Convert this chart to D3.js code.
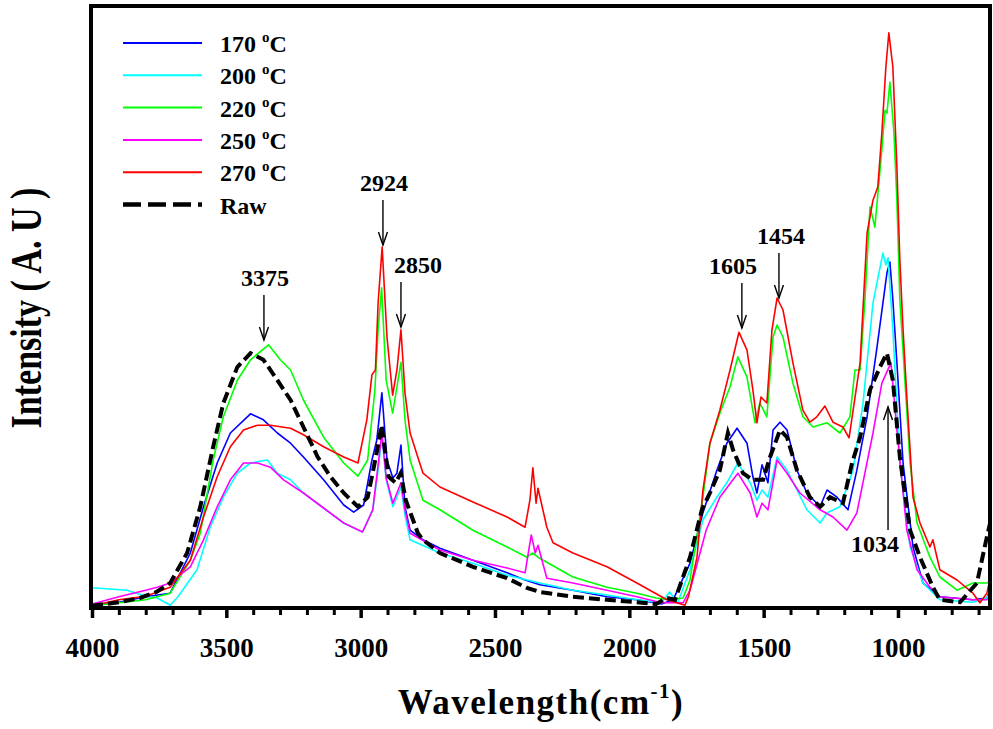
<!DOCTYPE html>
<html>
<head>
<meta charset="utf-8">
<script src="https://cdn.jsdelivr.net/npm/d3@7"></script>
<style>
  body { margin: 0; background: #fff; }
  text { font-family: "Liberation Serif", "Times New Roman", serif; font-weight: bold; fill: #000; }
</style>
</head>
<body>
<div id="chart"></div>
<script>
const width = 993, height = 729;
const margin = { top: 6, right: 3, bottom: 122, left: 92 };

// spectra: [wavenumber (cm-1), intensity (a.u.)]
const s170 = [[4000,0.2],[3900,0.8],[3800,1.7],[3709,2.3],[3634,9.0],[3585,16.7],[3534,24.0],[3485,29.0],[3410,32.2],[3362,31.2],[3310,29.0],[3261,27.3],[3213,25.0],[3138,21.2],[3063,17.0],[3026,15.8],[2989,17.0],[2958,24.5],[2940,27.8],[2921,35.7],[2902,24.5],[2880,21.5],[2865,22.3],[2850,27.0],[2835,16.7],[2816,12.8],[2768,11.2],[2705,9.8],[2582,7.8],[2455,5.7],[2388,4.5],[2333,3.7],[2210,2.8],[2083,1.7],[1972,1.2],[1880,0.5],[1837,1.2],[1774,7.3],[1726,15.7],[1674,22.8],[1637,27.3],[1599,29.8],[1562,27.3],[1540,21.7],[1525,19.0],[1506,23.7],[1484,20.7],[1465,29.5],[1439,30.8],[1413,29.5],[1376,22.8],[1339,19.0],[1290,16.7],[1264,19.5],[1227,18.3],[1186,16.2],[1153,22.8],[1115,31.7],[1078,43.3],[1041,55.7],[1030,57.5],[1019,51.2],[1004,40.7],[981,24.0],[944,10.0],[907,4.0],[844,1.7],[721,1.2],[669,1.5],[650,3.7]];

const s200 = [[4000,3.2],[3870,2.8],[3800,1.8],[3757,1.5],[3709,0.3],[3680,1.7],[3609,6.2],[3560,13.3],[3511,18.3],[3459,22.3],[3410,24.0],[3347,24.5],[3310,22.3],[3261,21.2],[3213,19.0],[3138,16.5],[3063,14.0],[2993,12.5],[2955,16.2],[2935,22.8],[2921,28.7],[2905,21.2],[2880,16.7],[2850,20.0],[2835,15.3],[2816,11.2],[2705,9.0],[2582,7.3],[2455,5.3],[2333,4.0],[2210,2.8],[2083,2.0],[1972,1.2],[1880,0.7],[1850,2.5],[1820,0.7],[1774,6.2],[1726,14.5],[1674,18.3],[1637,20.7],[1596,24.0],[1550,20.7],[1525,17.8],[1506,19.5],[1484,18.3],[1450,25.0],[1413,22.8],[1376,19.5],[1339,16.2],[1290,14.0],[1264,15.7],[1216,16.7],[1167,22.8],[1130,34.0],[1093,50.7],[1056,59.0],[1045,57.0],[1037,58.2],[1019,46.2],[993,24.0],[955,10.0],[907,4.0],[844,1.2],[721,0.8],[669,1.5],[650,2.8]];

const s220 = [[4000,0.2],[3900,0.7],[3800,1.2],[3709,2.3],[3634,7.8],[3597,12.3],[3549,24.5],[3511,31.7],[3459,37.8],[3410,41.2],[3343,43.7],[3299,41.2],[3261,39.5],[3213,34.5],[3138,28.3],[3063,24.0],[3010,21.8],[2974,24.5],[2947,36.2],[2935,46.2],[2922,53.2],[2905,37.8],[2881,32.3],[2865,36.7],[2850,40.8],[2835,31.2],[2816,24.5],[2768,17.8],[2705,16.2],[2582,12.8],[2455,10.0],[2381,8.3],[2360,9.0],[2340,8.3],[2210,5.0],[2083,3.3],[1972,2.3],[1900,1.5],[1850,1.2],[1800,1.5],[1774,4.5],[1726,18.3],[1700,27.3],[1663,32.3],[1625,36.7],[1596,41.7],[1562,38.3],[1532,30.7],[1514,34.0],[1488,31.7],[1465,45.0],[1450,47.0],[1428,45.0],[1391,37.3],[1354,31.7],[1316,30.0],[1264,30.7],[1216,29.0],[1179,31.7],[1160,39.5],[1141,39.5],[1123,51.2],[1104,66.7],[1086,63.3],[1060,76.2],[1048,82.8],[1041,82.3],[1030,87.5],[1015,79.0],[1004,67.8],[993,51.2],[955,24.0],[929,14.0],[881,8.3],[844,5.0],[780,2.8],[721,4.0],[669,4.0],[650,4.5]];

const s250 = [[4000,0.5],[3900,1.7],[3800,2.8],[3757,3.3],[3709,4.0],[3634,6.7],[3585,11.2],[3534,16.7],[3485,21.2],[3436,24.0],[3384,24.0],[3336,23.3],[3287,21.2],[3213,19.0],[3138,16.5],[3063,14.0],[2993,12.5],[2955,16.2],[2935,23.7],[2921,29.0],[2905,21.5],[2880,17.3],[2850,20.7],[2835,16.2],[2816,12.3],[2705,9.5],[2582,7.8],[2455,6.5],[2388,5.7],[2365,12.0],[2350,9.0],[2340,10.3],[2307,4.8],[2210,4.0],[2083,2.8],[1972,1.7],[1880,0.7],[1800,0.7],[1774,2.8],[1714,12.8],[1663,18.3],[1596,22.3],[1550,19.0],[1525,15.0],[1506,17.3],[1484,16.2],[1450,24.5],[1413,22.3],[1365,19.0],[1290,16.2],[1242,15.0],[1190,12.8],[1153,15.7],[1093,29.0],[1060,37.3],[1026,40.7],[1004,29.5],[967,12.8],[929,6.2],[881,3.3],[844,1.7],[721,1.2],[669,1.2],[650,2.0]];

const s270 = [[4000,0.2],[3900,1.2],[3800,1.8],[3709,3.3],[3634,7.8],[3585,15.0],[3534,21.7],[3485,26.7],[3436,29.5],[3384,30.3],[3336,30.3],[3261,29.8],[3213,28.7],[3138,26.7],[3063,25.0],[3010,24.0],[2977,31.2],[2958,38.7],[2945,39.5],[2935,50.7],[2920,60.0],[2902,45.0],[2881,35.3],[2865,39.5],[2850,46.2],[2835,35.7],[2816,29.0],[2768,22.3],[2705,20.0],[2582,17.5],[2455,15.0],[2388,13.3],[2370,17.8],[2359,23.2],[2347,17.3],[2340,19.8],[2307,13.3],[2284,10.7],[2210,9.0],[2083,6.7],[1972,4.0],[1860,1.2],[1793,0.3],[1780,1.7],[1748,8.3],[1726,19.5],[1700,27.3],[1663,32.8],[1625,39.5],[1592,45.8],[1562,42.8],[1540,36.2],[1525,30.7],[1510,35.0],[1488,34.0],[1469,46.2],[1450,51.5],[1428,49.5],[1391,40.7],[1354,32.8],[1328,30.8],[1302,31.7],[1272,33.5],[1242,30.8],[1205,30.0],[1182,28.2],[1141,40.7],[1115,62.3],[1093,67.8],[1075,70.0],[1060,79.0],[1045,90.0],[1034,95.7],[1019,90.0],[1004,73.3],[993,57.8],[981,46.2],[967,35.0],[944,18.3],[918,14.0],[881,10.0],[870,11.2],[844,6.2],[780,4.5],[721,2.3],[695,0.7],[669,2.3],[650,6.2]];

const sRaw = [[4000,0.2],[3900,0.8],[3821,1.5],[3760,2.5],[3709,4.0],[3646,9.0],[3597,16.7],[3549,26.7],[3511,34.0],[3459,40.0],[3410,42.3],[3362,41.2],[3310,37.8],[3261,34.5],[3213,30.0],[3160,25.0],[3112,21.7],[3063,19.0],[3010,16.7],[2974,18.3],[2951,23.3],[2935,27.0],[2922,30.3],[2896,21.7],[2870,20.7],[2851,22.3],[2832,17.8],[2787,12.3],[2768,11.2],[2705,9.0],[2582,6.7],[2455,4.8],[2381,3.2],[2333,2.5],[2210,1.7],[2083,1.2],[1972,0.8],[1900,0.5],[1860,1.5],[1830,1.2],[1774,8.3],[1730,16.2],[1700,19.0],[1663,22.8],[1633,29.0],[1614,26.2],[1577,22.3],[1540,21.2],[1502,21.2],[1476,25.0],[1439,29.5],[1413,28.3],[1376,22.8],[1328,18.3],[1290,16.7],[1253,18.3],[1205,17.3],[1171,24.0],[1141,28.3],[1104,36.2],[1067,40.0],[1041,42.3],[1019,37.8],[993,25.0],[955,12.8],[918,8.3],[870,3.3],[844,1.2],[769,0.8],[706,4.0],[669,11.7],[650,15.3]];

const temps = ["170", "200", "220", "250", "270"];
const colors = ["#0000ff", "#00ffff", "#00ff00", "#ff00ff", "#ff0000"];
const xMajor = [4000, 3500, 3000, 2500, 2000, 1500, 1000];
const peakLabels = ["3375", "2924", "2850", "1605", "1454", "1034"];
const peakAt = [3360, 2917, 2850, 1581, 1443, 1037];

const series = [s170, s200, s220, s250, s270];

const svg = d3.select("#chart").append("svg")
    .attr("width", width)
    .attr("height", height);

const x = d3.scaleLinear()
    .domain([4000, 650])
    .range([margin.left, width - margin.right + 2]);

const y = d3.scaleLinear()
    .domain([0, 100])
    .range([height - margin.bottom, margin.top + 1]);

const plotW = 990 - margin.left + 1;
const plotH = height - margin.bottom - margin.top;

svg.append("clipPath")
    .attr("id", "plot")
  .append("rect")
    .attr("x", margin.left)
    .attr("y", margin.top)
    .attr("width", plotW - 1)
    .attr("height", plotH);

const line = d3.line()
    .x(d => x(d[0]))
    .y(d => y(d[1]));

const lines = svg.append("g").attr("clip-path", "url(#plot)");

series.forEach((s, i) => {
  lines.append("path")
      .datum(s)
      .attr("fill", "none")
      .attr("stroke", colors[i])
      .attr("stroke-width", 1.6)
      .attr("stroke-linejoin", "round")
      .attr("d", line);
});

lines.append("path")
    .datum(sRaw)
    .attr("fill", "none")
    .attr("stroke", "#000")
    .attr("stroke-width", 4)
    .attr("stroke-dasharray", "11,5")
    .attr("d", line);

// frame
svg.append("rect")
    .attr("x", margin.left - 1)
    .attr("y", margin.top)
    .attr("width", plotW)
    .attr("height", plotH + 1)
    .attr("fill", "none")
    .attr("stroke", "#000")
    .attr("stroke-width", 4);

// x axis: minor then major ticks
const yBase = height - margin.bottom;
svg.append("g")
    .attr("transform", `translate(0,${yBase})`)
    .call(d3.axisBottom(x)
      .tickValues(d3.range(700, 4000, 100).filter(v => v % 500 !== 0))
      .tickSize(8)
      .tickFormat(""))
    .call(g => g.select(".domain").remove())
    .call(g => g.selectAll("line").attr("stroke-width", 3));

svg.append("g")
    .attr("transform", `translate(0,${yBase})`)
    .call(d3.axisBottom(x)
      .tickValues(xMajor)
      .tickSize(11)
      .tickPadding(20)
      .tickFormat(d3.format("d")))
    .call(g => g.select(".domain").remove())
    .call(g => g.selectAll("line").attr("stroke-width", 3.5))
    .call(g => g.selectAll("text")
      .attr("font-size", 27)
      .attr("font-family", "Liberation Serif, serif")
      .attr("font-weight", "bold")
      .attr("fill", "#000"));

// axis titles
const xt = svg.append("text")
    .attr("x", (margin.left + 990) / 2)
    .attr("y", 714)
    .attr("text-anchor", "middle")
    .attr("font-size", 35)
    .attr("letter-spacing", 1.5);
xt.append("tspan").text("Wavelength(cm");
xt.append("tspan").attr("font-size", 21).attr("dy", -16).text("-1");
xt.append("tspan").attr("dy", 16).text(")");

svg.append("text")
    .attr("transform", "translate(41,308) rotate(-90) scale(1,1.3)")
    .attr("text-anchor", "middle")
    .attr("font-size", 34)
    .text("Intensity ( A. U )");

// legend
const legend = svg.append("g");
const legendItems = temps.map((t, i) => ({ label: t, color: colors[i], dash: null }))
    .concat([{ label: "Raw", color: "#000", dash: "18,7" }]);

legendItems.forEach((d, i) => {
  const ly = 43 + i * 32.3;
  legend.append("line")
      .attr("x1", 123).attr("x2", 202)
      .attr("y1", ly).attr("y2", ly)
      .attr("stroke", d.color)
      .attr("stroke-width", d.dash ? 4.5 : 2)
      .attr("stroke-dasharray", d.dash);
  const t = legend.append("text")
      .attr("x", 220)
      .attr("y", ly + 9)
      .attr("font-size", 24);
  if (d.dash) {
    t.text(d.label);
  } else {
    t.append("tspan").text(d.label + " ");
    t.append("tspan").attr("font-size", 15).attr("dy", -10).text("o");
    t.append("tspan").attr("dy", 10).text("C");
  }
});

// peak annotations
const tipY = [340, 245, 327, 328, 298, 407];
const textDx = [1, 1, 17, -9, 2, -13];
const ann = svg.append("g");
peakLabels.forEach((lab, i) => {
  const ax = x(peakAt[i]);
  const up = i === 5;
  const tip = tipY[i];
  const tail = up ? tip + 123 : tip - 45;
  ann.append("line")
      .attr("x1", ax).attr("x2", ax)
      .attr("y1", tail).attr("y2", tip)
      .attr("stroke", "#000").attr("stroke-width", 1.4);
  const s = up ? 1 : -1;
  ann.append("path")
      .attr("d", `M${ax - 4.5},${tip + s * 13}L${ax},${tip}L${ax + 4.5},${tip + s * 13}`)
      .attr("fill", "none")
      .attr("stroke", "#000")
      .attr("stroke-width", 1.4);
  ann.append("text")
      .attr("x", ax + textDx[i])
      .attr("y", up ? tail + 22 : tail - 9)
      .attr("text-anchor", "middle")
      .attr("font-size", 24)
      .text(lab);
});
</script>
</body>
</html>
